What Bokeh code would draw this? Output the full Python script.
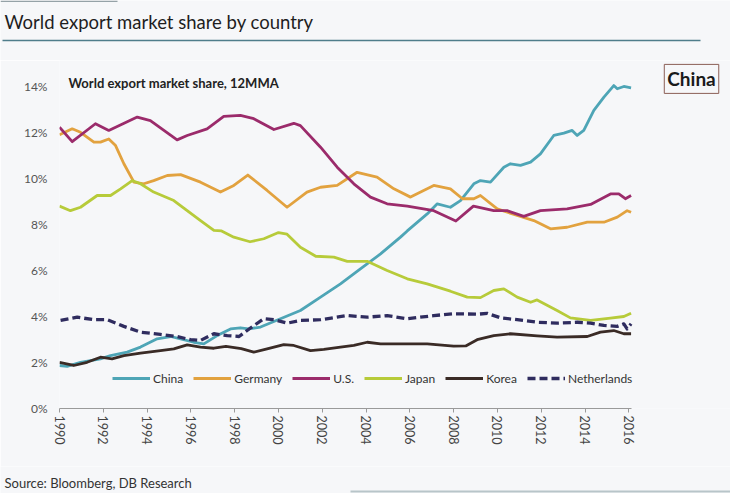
from bokeh.plotting import figure
from bokeh.layouts import column
from bokeh.models import (Range1d, FixedTicker, Legend, LegendItem, Label,
                          BoxAnnotation, ColumnDataSource)
from bokeh.embed import file_html
from bokeh.resources import INLINE

# ---------------- data ----------------
title_text = "World export market share by country"
subtitle_text = "World export market share, 12MMA"
source_text = "Source: Bloomberg, DB Research"
badge_text = "China"

china_years = [1990.0, 1990.35, 1990.96, 1991.87, 1992.33, 1993.09, 1993.7, 1994.46, 1995.07,
               1995.53, 1996.13, 1996.59, 1997.2, 1997.81, 1998.26, 1998.64, 1999.18, 2000.09,
               2001.0, 2001.92, 2002.83, 2003.74, 2004.66, 2005.57, 2005.88, 2006.79, 2007.25,
               2007.85, 2008.31, 2008.92, 2009.22, 2009.68, 2010.29, 2010.59, 2011.05, 2011.51,
               2011.96, 2012.57, 2013.03, 2013.41, 2013.64, 2013.94, 2014.4, 2014.86, 2015.31,
               2015.47, 2015.77, 2016.1]
china_share = [1.87, 1.83, 2.01, 2.16, 2.30, 2.45, 2.67, 3.03, 3.13,
               3.03, 2.88, 2.81, 3.17, 3.46, 3.51, 3.46, 3.54, 3.90,
               4.26, 4.84, 5.42, 6.07, 6.72, 7.45, 7.72, 8.46, 8.90,
               8.75, 9.04, 9.77, 9.91, 9.84, 10.49, 10.64, 10.57, 10.71,
               11.07, 11.87, 11.97, 12.09, 11.87, 12.09, 12.96, 13.54, 14.04,
               13.90, 14.00, 13.94]

germany_years = [1990.0, 1990.58, 1990.96, 1991.57, 1991.87, 1992.25, 1992.56, 1992.94, 1993.4,
                 1993.85, 1994.3, 1994.92, 1995.53, 1996.44, 1997.35, 1997.96, 1998.6, 1999.48,
                 2000.39, 2001.3, 2001.92, 2002.68, 2003.59, 2004.5, 2005.27, 2006.03, 2007.09,
                 2007.85, 2008.4, 2008.92, 2009.22, 2009.99, 2010.9, 2011.66, 2012.42, 2013.18,
                 2014.1, 2014.86, 2015.47, 2015.92, 2016.1]
germany_share = [11.90, 12.16, 12.01, 11.58, 11.58, 11.72, 11.43, 10.64, 9.84,
                 9.77, 9.91, 10.13, 10.17, 9.84, 9.41, 9.70, 10.15, 9.48,
                 8.75, 9.41, 9.62, 9.70, 10.27, 10.06, 9.55, 9.19, 9.70,
                 9.55, 9.12, 9.12, 9.26, 8.68, 8.39, 8.17, 7.81, 7.88,
                 8.10, 8.10, 8.32, 8.60, 8.53]

us_years = [1990.0, 1990.58, 1991.64, 1992.25, 1993.55, 1994.15, 1995.37, 1995.83, 1996.74,
            1997.5, 1998.26, 1998.87, 1999.79, 2000.7, 2001.0, 2001.92, 2002.68, 2003.44,
            2004.2, 2004.96, 2005.88, 2007.09, 2008.1, 2008.9, 2009.83, 2010.44, 2011.2,
            2011.96, 2013.18, 2014.25, 2015.16, 2015.54, 2015.84, 2016.1]
us_share = [12.23, 11.60, 12.38, 12.09, 12.67, 12.52, 11.68, 11.87, 12.16,
            12.70, 12.74, 12.60, 12.13, 12.40, 12.30, 11.36, 10.49, 9.77,
            9.19, 8.90, 8.80, 8.60, 8.15, 8.80, 8.60, 8.60, 8.35,
            8.60, 8.68, 8.87, 9.33, 9.33, 9.12, 9.26]

japan_years = [1990.0, 1990.5, 1990.96, 1991.72, 1992.33, 1992.79, 1993.32, 1993.7, 1994.3,
               1995.22, 1995.83, 1996.44, 1997.05, 1997.4, 1997.96, 1998.7, 1999.33, 2000.0,
               2000.39, 2001.0, 2001.7, 2002.53, 2003.14, 2004.05, 2004.96, 2005.88, 2006.79,
               2007.85, 2008.62, 2009.22, 2009.83, 2010.29, 2010.9, 2011.51, 2011.81, 2012.72,
               2013.33, 2014.25, 2015.16, 2015.77, 2016.1]
japan_share = [8.80, 8.60, 8.75, 9.26, 9.26, 9.55, 9.91, 9.77, 9.41,
               9.04, 8.60, 8.17, 7.74, 7.72, 7.45, 7.25, 7.38, 7.65,
               7.58, 7.01, 6.62, 6.58, 6.40, 6.40, 6.00, 5.64, 5.42,
               5.10, 4.84, 4.82, 5.13, 5.20, 4.84, 4.62, 4.72, 4.26,
               3.94, 3.83, 3.93, 4.00, 4.14]

korea_years = [1990.0, 1990.65, 1991.26, 1991.87, 1992.4, 1992.94, 1993.7, 1994.61, 1995.22,
               1995.83, 1996.44, 1997.05, 1997.6, 1998.3, 1998.87, 1999.48, 2000.24, 2000.7,
               2001.46, 2002.07, 2002.83, 2003.44, 2004.05, 2004.66, 2005.57, 2006.79, 2008.0,
               2008.55, 2009.07, 2009.83, 2010.59, 2011.81, 2012.72, 2014.1, 2014.7, 2015.31,
               2015.77, 2016.1]
korea_share = [2.01, 1.87, 2.01, 2.23, 2.16, 2.30, 2.41, 2.52, 2.59,
               2.77, 2.67, 2.62, 2.70, 2.60, 2.45, 2.59, 2.78, 2.74,
               2.52, 2.57, 2.67, 2.74, 2.88, 2.81, 2.81, 2.81, 2.71,
               2.72, 2.99, 3.17, 3.25, 3.16, 3.10, 3.13, 3.32, 3.39,
               3.25, 3.25]

netherlands_years = [1990.05, 1990.81, 1991.57, 1992.18, 1992.94, 1993.7, 1994.61, 1995.37,
                     1995.98, 1996.44, 1997.05, 1997.66, 1998.2, 1998.72, 1999.33, 1999.79,
                     2000.4, 2001.0, 2001.92, 2003.14, 2004.05, 2004.96, 2005.88, 2007.09,
                     2008.0, 2009.1, 2009.53, 2010.14, 2010.9, 2011.81, 2012.72, 2013.64,
                     2014.25, 2014.86, 2015.47, 2015.77, 2015.92, 2016.1]
netherlands_share = [3.83, 3.97, 3.86, 3.86, 3.57, 3.32, 3.22, 3.13,
                     2.99, 2.96, 3.25, 3.17, 3.13, 3.50, 3.90, 3.86,
                     3.71, 3.83, 3.86, 4.04, 3.97, 4.04, 3.90, 4.04,
                     4.12, 4.10, 4.14, 3.94, 3.86, 3.75, 3.71, 3.75,
                     3.71, 3.61, 3.57, 3.68, 3.46, 3.68]

x_ticks = [1990, 1992, 1994, 1996, 1998, 2000, 2002, 2004, 2006, 2008, 2010, 2012, 2014, 2016]
x_tick_labels = ["1990", "1992", "1994", "1996", "1998", "2000", "2002", "2004", "2006",
                 "2008", "2010", "2012", "2014", "2016"]
y_ticks = [0, 2, 4, 6, 8, 10, 12, 14]
y_tick_labels = ["0%", "2%", "4%", "6%", "8%", "10%", "12%", "14%"]

series = [
    ("China", china_years, china_share, "#4ea5b6", "solid", 2.8),
    ("Germany", germany_years, germany_share, "#e2a23f", "solid", 2.8),
    ("U.S.", us_years, us_share, "#9b2b6b", "solid", 2.8),
    ("Japan", japan_years, japan_share, "#b7cb3a", "solid", 2.8),
    ("Korea", korea_years, korea_share, "#3a2b26", "solid", 2.8),
    ("Netherlands", netherlands_years, netherlands_share, "#2f2c5f", "8 4", 3.3),
]

# ---------------- styling ----------------
BG = "#f6f7f9"
FONT = "Lato"
W = 730


def no_align(f):
    if "frame_align" in f.properties():
        f.frame_align = False


def blank_figure(h, y_top, y_bottom):
    f = figure(width=W, height=h, output_backend="svg", toolbar_location=None, title=None,
               x_range=Range1d(0, W), y_range=Range1d(y_bottom, y_top),
               x_axis_location=None, y_axis_location=None,
               min_border_left=0, min_border_right=0, min_border_top=0, min_border_bottom=0)
    f.background_fill_color = BG
    f.border_fill_color = BG
    f.outline_line_color = None
    f.grid.visible = False
    no_align(f)
    return f


# --- header (title + rule); coordinates are page pixels ---
head = blank_figure(60, 0, 60)
head.add_layout(BoxAnnotation(left=0, right=117, top=0, bottom=1.5,
                              fill_color="#7d8c92", fill_alpha=0.8, line_color=None))
head.add_layout(Label(x=4, y=21, text=title_text, text_font=FONT,
                      text_font_size="18.5px", text_color="#1e1e1e",
                      text_baseline="middle", text_align="left"))
head.add_layout(BoxAnnotation(left=2, right=700, top=39.3, bottom=40.8,
                              fill_color="#4f7d8b", fill_alpha=1, line_color=None))

# --- main chart ---
p = figure(width=W, height=406, output_backend="svg", toolbar_location=None, title=None,
           x_range=Range1d(1990, 2020.64), y_range=Range1d(0, 15.13),
           min_border_left=59, min_border_right=0, min_border_top=0, min_border_bottom=58)
p.background_fill_color = BG
p.border_fill_color = BG
p.outline_line_color = None
p.grid.visible = False
no_align(p)

renderers = []
for name, xs, ys, color, dash, lw in series:
    src = ColumnDataSource(dict(x=xs, y=ys))
    r = p.line("x", "y", source=src, line_color=color, line_width=lw, line_dash=dash,
               line_join="round", line_cap="butt")
    renderers.append((name, r))

xa = p.xaxis[0]
xa.ticker = FixedTicker(ticks=x_ticks)
xa.bounds = (1990, 2016.1)
xa.major_label_overrides = {t: lab for t, lab in zip(x_ticks, x_tick_labels)}
xa.major_label_orientation = "vertical"
xa.minor_tick_line_color = None
xa.axis_line_color = "#9a9a9a"
xa.axis_line_width = 1
xa.major_tick_line_color = "#9a9a9a"
xa.major_tick_out = 4
xa.major_tick_in = 0
xa.major_label_standoff = 3
xa.major_label_text_font = FONT
xa.major_label_text_font_size = "12.5px"
xa.major_label_text_color = "#444444"

ya = p.yaxis[0]
ya.ticker = FixedTicker(ticks=y_ticks)
ya.major_label_overrides = {t: lab for t, lab in zip(y_ticks, y_tick_labels)}
ya.axis_line_color = None
ya.major_tick_line_color = None
ya.minor_tick_line_color = None
ya.major_tick_out = 0
ya.major_label_standoff = 12
ya.major_label_text_font = FONT
ya.major_label_text_font_size = "12px"
ya.major_label_text_color = "#555555"

legend = Legend(items=[LegendItem(label=n, renderers=[r]) for n, r in renderers],
                orientation="horizontal", location=(53, 22),
                glyph_width=38, glyph_height=16, label_height=16,
                label_standoff=3, spacing=10, padding=0, margin=0,
                background_fill_alpha=0, border_line_color=None,
                label_text_font=FONT, label_text_font_size="12px",
                label_text_color="#333333")
p.add_layout(legend, "center")

p.add_layout(Label(x=1990.41, y=14.17, text=subtitle_text, text_font=FONT,
                   text_font_style="bold", text_font_size="13px", text_color="#222222",
                   text_baseline="middle", text_align="left"))
p.add_layout(Label(x=2018.86, y=14.33, text=badge_text, text_font=FONT,
                   text_font_style="bold", text_font_size="19px", text_color="#1a1a1a",
                   text_baseline="middle", text_align="center",
                   border_line_color="#8b5e55", border_line_width=1, padding=3))

# --- footer (source) ---
foot = blank_figure(27, 466, 493)
foot.add_layout(Label(x=4, y=482, text=source_text, text_font=FONT,
                      text_font_size="13px", text_color="#333333",
                      text_baseline="middle", text_align="left"))
foot.add_layout(BoxAnnotation(left=350, right=730, top=490, bottom=492,
                              fill_color="#a9b8bd", fill_alpha=0.8, line_color=None))

layout = column(head, p, foot, spacing=0)
open("out.html", "w").write(file_html(layout, INLINE))
